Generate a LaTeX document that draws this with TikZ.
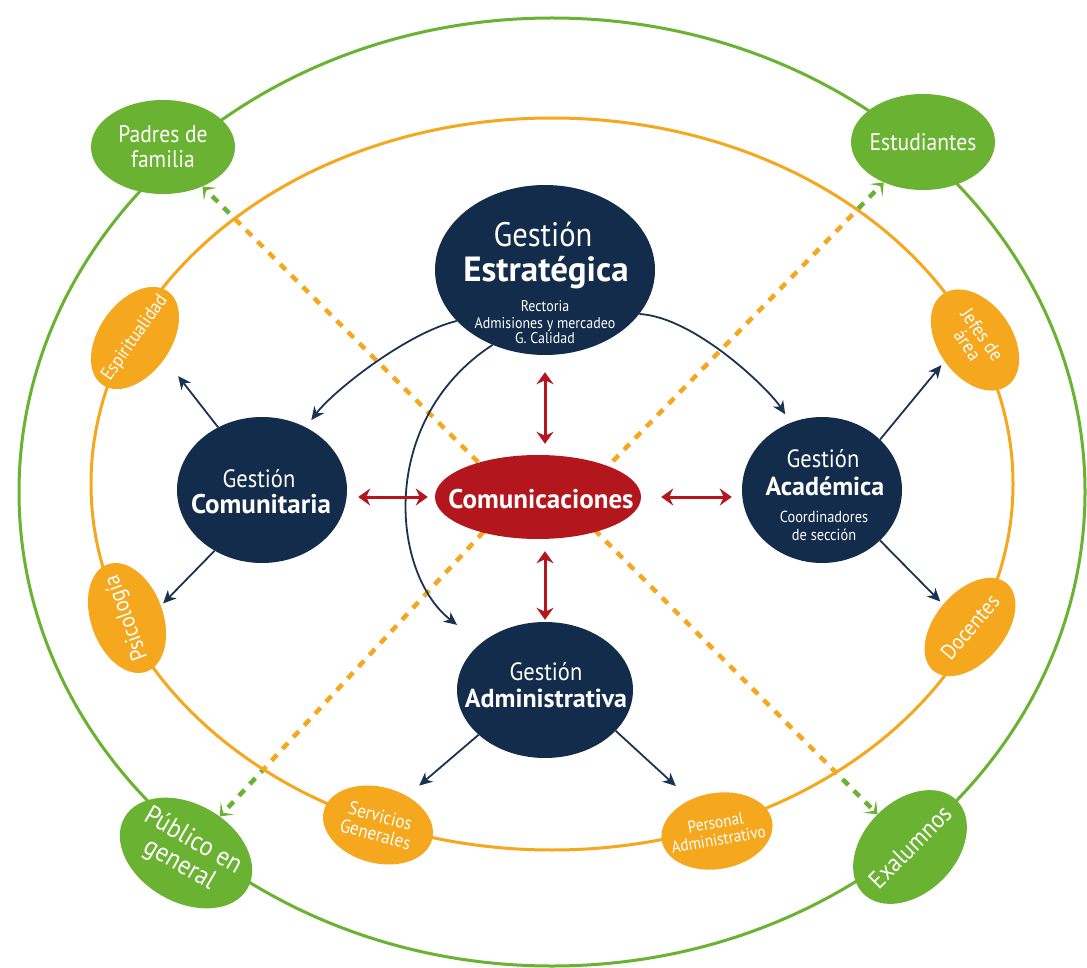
\documentclass[tikz,border=0pt]{standalone}
\usepackage{fontspec}
\setmainfont{PT Sans}[FakeStretch=0.9]
\newfontfamily\boldf{PT Sans Bold}
\usetikzlibrary{arrows.meta,backgrounds,calc,shapes.geometric}
\definecolor{navy}{HTML}{132C4B}
\definecolor{navyline}{HTML}{1B3352}
\definecolor{rojo}{HTML}{B3171D}
\definecolor{verde}{HTML}{6AB232}
\definecolor{naranja}{HTML}{F5A71D}
\newcommand{\fs}[2]{\fontsize{#1}{#2}\selectfont\lineskiplimit=-200pt\relax}
\begin{document}
\begin{tikzpicture}[x=1pt,y=-1pt,
  blob/.style={ellipse, inner sep=0pt},
  navyn/.style={blob, fill=navy},
  redn/.style={blob, fill=rojo},
  greenn/.style={blob, fill=verde},
  orangen/.style={blob, fill=naranja},
  txt/.style={inner sep=0pt, text=white, align=center},
  bl/.style={txt, anchor=base},
  navyarrow/.style={draw=navyline, line width=1.8pt, -{Stealth[length=13pt,width=12pt,inset=4pt]}},
  redarrow/.style={draw=rojo, line width=3pt, {Stealth[length=12pt,width=17pt,inset=4pt]}-{Stealth[length=12pt,width=17pt,inset=4pt]}},
  odash/.style={draw=naranja, line width=4.5pt, dash pattern=on 8pt off 8pt},
  gdash/.style={draw=verde, line width=4.5pt, dash pattern=on 8pt off 8pt, -{Stealth[length=11pt,width=18pt,inset=6pt]}},
  ring/.style={line width=3pt}
]
\useasboundingbox (0,0) rectangle (1087,968);

% ---------------- shapes
\node[navyn, minimum width=220pt, minimum height=170pt] (estr) at (545,270) {};
\node[redn, minimum width=206pt, minimum height=84pt] (comm) at (538,497) {};
\node[navyn, minimum width=170pt, minimum height=146pt] (comt) at (262,490) {};
\node[navyn, minimum width=160pt, minimum height=146pt] (acad) at (822,490) {};
\node[navyn, minimum width=176pt, minimum height=136pt] (adm) at (545,690) {};

\node[greenn, minimum width=144pt, minimum height=94pt] (padres) at (163,147) {};
\node[greenn, minimum width=144pt, minimum height=96pt] (estud) at (923,142) {};
\node[greenn, minimum width=142pt, minimum height=98pt, rotate=-30] (publ) at (186,853) {};
\node[greenn, minimum width=132pt, minimum height=92pt, rotate=45] (exal) at (910,847) {};

\node[orangen, minimum width=114pt, minimum height=72pt, rotate=55] (esp) at (135,338) {};
\node[orangen, minimum width=114pt, minimum height=72pt, rotate=110] (psic) at (127,618) {};
\node[orangen, minimum width=112pt, minimum height=74pt, rotate=-55] (jefes) at (975,340) {};
\node[orangen, minimum width=114pt, minimum height=70pt, rotate=50] (doc) at (970,627) {};
\node[orangen, minimum width=112pt, minimum height=76pt, rotate=-15] (serv) at (378,825) {};
\node[orangen, minimum width=112pt, minimum height=76pt, rotate=10] (pers) at (717,831) {};

% ---------------- texts
\node[bl, font=\fs{34}{36}] (estrL1) at (543,247) {Gestión};
\node[bl, font=\boldf\fs{35}{37}] (estrL2) at (546,282) {Estratégica};
\node[bl, font=\fs{15.5}{16}] (estrL3) at (545,312) {Rectoria};
\node[bl, font=\fs{15.5}{16}] (estrL4) at (545,328) {Admisiones y mercadeo};
\node[bl, font=\fs{15.5}{16}] (estrL5) at (545,344) {G. Calidad};

\node[bl, font=\boldf\fs{27}{29}] (commL) at (541,508) {Comunicaciones};

\node[bl, font=\fs{25}{27}] (comtL1) at (259,487) {Gestión};
\node[bl, font=\boldf\fs{27}{29}] (comtL2) at (261,513) {Comunitaria};

\node[bl, font=\fs{25}{27}] (acadL1) at (823,467) {Gestión};
\node[bl, font=\boldf\fs{26}{28}] (acadL2) at (825,495) {Académica};
\node[bl, font=\fs{16}{17}] (acadL3) at (824,522) {Coordinadores};
\node[bl, font=\fs{16}{17}] (acadL4) at (824,540) {de sección};

\node[bl, font=\fs{25}{27}] (admL1) at (546,680) {Gestión};
\node[bl, font=\boldf\fs{26}{28}] (admL2) at (546,707) {Administrativa};

\node[txt, font=\fs{24}{25}] (padresT) at (padres.center) {Padres de\\familia};
\node[txt, font=\fs{24}{26}] (estudT) at (estud.center) {Estudiantes};
\node[txt, font=\fs{27}{27}, rotate=-30] (publT) at (publ.center) {Público en\\general};
\node[txt, font=\fs{25}{26}, rotate=45] (exalT) at (exal.center) {Exalumnos};

\node[txt, font=\fs{19}{20}, rotate=55] (espT) at (esp.center) {Espiritualidad};
\node[txt, font=\fs{23}{24}, rotate=110] (psicT) at (psic.center) {Psicología};
\node[txt, font=\fs{19.5}{18}, rotate=-55] (jefesT) at (jefes.center) {Jefes de\\área};
\node[txt, font=\fs{22}{23}, rotate=50] (docT) at (doc.center) {Docentes};
\node[txt, font=\fs{19}{19}, rotate=-15] (servT) at (serv.center) {Servicios\\Generales};
\node[txt, font=\fs{17}{17}, rotate=10] (persT) at (pers.center) {Personal\\Administrativo};

\coordinate (hubU) at ([yshift=24pt]comm.center);
\coordinate (hubD) at ([xshift=8pt,yshift=-33pt]comm.center);

% ---------------- background: spokes and rings
\begin{scope}[on background layer]
  \fill[white] (0,0) rectangle (1087,968);
  \begin{scope}
    \clip (552,484) ellipse [x radius=461pt, y radius=366pt];
    \draw[odash] (hubD) -- (padres);
    \draw[odash] (hubD) -- (estud);
    \draw[odash] (hubU) -- (publ);
    \draw[odash] (hubU) -- (exal);
  \end{scope}
  \begin{scope}[even odd rule]
    \clip (0,0) rectangle (1087,968) (552,484) ellipse [x radius=461pt, y radius=366pt];
    \draw[gdash] (hubD) -- (padres);
    \draw[gdash] (hubD) -- (estud);
    \draw[gdash] (hubU) -- (publ);
    \draw[gdash] (hubU) -- (exal);
  \end{scope}
  \draw[ring, draw=naranja] (552,484) ellipse [x radius=461pt, y radius=366pt];
  \draw[ring, draw=verde] (552,492) ellipse [x radius=533pt, y radius=474pt];
\end{scope}

% ---------------- curved arrows from Estrategica
\draw[navyarrow, shorten >=9pt] (estr.210) .. controls +(-50,12) and +(27,-36) .. (comt.55);
\draw[navyarrow, shorten >=10pt] (estr.335) .. controls +(55,3) and +(-22,-34) .. (acad.115);
\draw[navyarrow, shorten >=30pt] (estr.235) .. controls +(-115,75) and +(-90,-70) .. (adm.144);

% ---------------- straight arrows
\draw[navyarrow, shorten >=22pt] (comt.125) -- (esp.-90);
\draw[navyarrow, shorten >=3pt] (comt.232) -- (psic.-90);
\draw[navyarrow, shorten >=5pt] (acad.41) -- (jefes.-90);
\draw[navyarrow, shorten >=4pt] (acad.-41) -- (doc.90);
\draw[navyarrow, shorten >=16pt] (adm.214) -- (serv.60);
\draw[navyarrow, shorten >=20pt] (adm.-30) -- (pers.120);

% ---------------- red double arrows
\draw[redarrow, shorten <=17pt, shorten >=11pt] (estr.south) -- (estr.south |- comm.north);
\draw[redarrow, shorten <=12pt, shorten >=2pt] (comm.south -| adm.north) -- (adm.north);
\draw[redarrow, shorten <=11pt, shorten >=7pt] (comt.east |- comm.west) -- (comm.west);
\draw[redarrow, shorten <=20pt, shorten >=10pt] (comm.east) -- (comm.east -| acad.west);
\end{tikzpicture}
\end{document}
